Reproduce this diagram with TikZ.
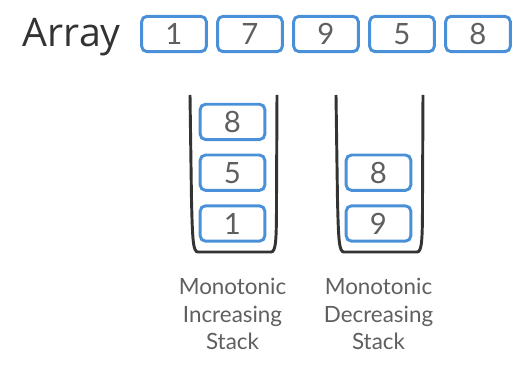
\documentclass[tikz,border=0pt]{standalone}
\usepackage{fontspec}
\setmainfont{Lato}
\newfontfamily\headfont{Open Sans}
\usetikzlibrary{positioning}
\definecolor{cellblue}{RGB}{74,144,217}
\definecolor{wallgray}{RGB}{51,51,51}
\definecolor{textgray}{RGB}{95,95,95}

\begin{document}
\begin{tikzpicture}[x=0.75pt,y=-0.75pt,
  cell/.style={draw=cellblue,line width=2.2pt,rounded corners=4pt,
               minimum width=48.5pt,minimum height=26.5pt,inner sep=0pt,
               text=textgray,font=\fontsize{22}{24}\selectfont},
  title/.style={inner sep=0pt,text=wallgray,font=\headfont\fontsize{29.5}{32}\selectfont},
  stacklabel/.style={align=center,text=textgray,inner sep=0pt,
               font=\fontsize{16.8}{20.6}\selectfont},
  wall/.style={draw=wallgray,line width=2.2pt}
]
\useasboundingbox (0,0) rectangle (512,370);
\foreach \v [count=\i] in {1,7,9,5,8}
  \node[cell] (a\i) at ({174+76*(\i-1)},34) {\v};
\node[title,anchor=base east] (arr) at (121,47) {Array};

\node[cell] (inc1) at (232.5,223.5) {1};
\node[cell,above=9.4pt of inc1] (inc2) {5};
\node[cell,above=9.4pt of inc2] (inc3) {8};
\node[cell] (dec1) at (378.5,223.5) {9};
\node[cell,above=9.4pt of dec1] (dec2) {8};

\foreach \dx in {0,146}
  \draw[wall,xshift=\dx*0.75pt] (190,95) -- (191.5,200)
    .. controls (192.5,240) and (193,252) .. (198,252) -- (271,252)
    .. controls (276,252) and (276.5,240) .. (276.5,200) -- (277,95);

\node[stacklabel] (inclabel) at (232.5,314) {Monotonic\\Increasing\\Stack};
\node[stacklabel] (declabel) at (378.5,314) {Monotonic\\Decreasing\\Stack};
\end{tikzpicture}
\end{document}
